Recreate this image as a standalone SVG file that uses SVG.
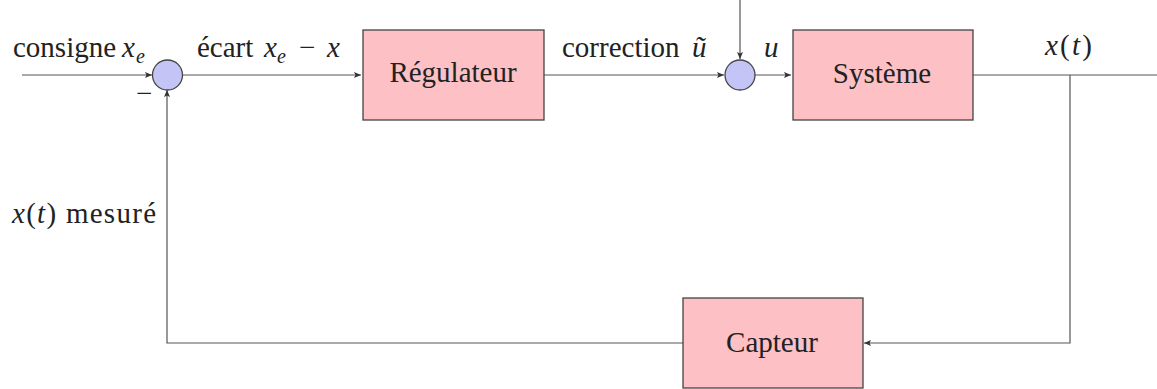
<svg xmlns="http://www.w3.org/2000/svg" width="1157" height="389" viewBox="0 0 1157 389">
<style>
.box{fill:#fdc0c4;stroke:#444;stroke-width:1.3}
.sum{fill:#c4c4f6;stroke:#444;stroke-width:1.3}
.wire{fill:none;stroke:#555;stroke-width:1.2}
text{font-family:'Liberation Serif','DejaVu Serif',serif;font-size:29px;fill:#222}
.m{font-style:italic}
.sub{font-style:italic;font-size:20px}
.c{text-anchor:middle}
</style>
<defs>
<marker id="ar" markerUnits="userSpaceOnUse" markerWidth="10" markerHeight="8" refX="7" refY="4" orient="auto">
<path d="M0,1 L7,4 L0,7 L1.5,4 Z" fill="#333"/>
</marker>
</defs>
<rect width="1157" height="389" fill="#fff"/>
<g id="connectors">
<path class="wire" d="M22,75 H152" marker-end="url(#ar)"/>
<path class="wire" d="M182,75 H361" marker-end="url(#ar)"/>
<path class="wire" d="M544,75 H724" marker-end="url(#ar)"/>
<path class="wire" d="M740,0 V59" marker-end="url(#ar)"/>
<path class="wire" d="M755,75 H791" marker-end="url(#ar)"/>
<path class="wire" d="M973,75 H1157"/>
<path class="wire" d="M1070,75 V343 H864" marker-end="url(#ar)"/>
<path class="wire" d="M683,343 H167 V90" marker-end="url(#ar)"/>
</g>
<g id="sum1"><circle class="sum" cx="167.5" cy="75" r="15"/></g>
<g id="sum2"><circle class="sum" cx="740" cy="75" r="15"/></g>
<g id="regulateur">
<rect class="box" x="363" y="30" width="181" height="90"/>
<text class="c" x="453" y="82">Régulateur</text>
</g>
<g id="systeme">
<rect class="box" x="793" y="30" width="180" height="90"/>
<text class="c" x="882" y="83">Système</text>
</g>
<g id="capteur">
<rect class="box" x="683" y="298" width="180" height="90"/>
<text class="c" x="772" y="352">Capteur</text>
</g>
<g id="labels">
<text x="13" y="57">consigne</text>
<text class="m" x="122" y="57">x</text>
<text class="sub" x="136" y="63">e</text>
<text x="136" y="103">−</text>
<text x="197" y="57">écart</text>
<text class="m" x="264" y="57">x</text>
<text class="sub" x="277" y="63">e</text>
<text x="299" y="57">−</text>
<text class="m" x="327" y="57">x</text>
<text x="562" y="57">correction</text>
<text class="m" x="692" y="57">ũ</text>
<text class="m" x="764" y="57">u</text>
<text x="1045" y="55" textLength="47" lengthAdjust="spacing"><tspan class="m">x</tspan>(<tspan class="m">t</tspan>)</text>
<text x="12" y="223" textLength="144" lengthAdjust="spacing"><tspan class="m">x</tspan>(<tspan class="m">t</tspan>) mesuré</text>
</g>
</svg>
